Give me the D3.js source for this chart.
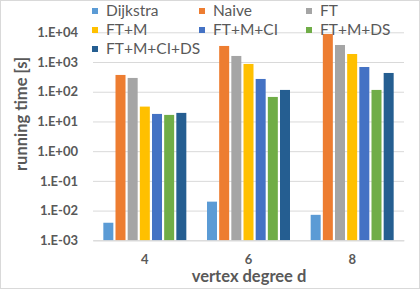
<!DOCTYPE html>
<html><head><meta charset="utf-8">
<script src="https://cdn.jsdelivr.net/npm/d3@7"></script>
<style>body{margin:0;background:#fff}svg{display:block}</style>
</head><body><svg id="c" width="420" height="289"></svg>
<script>
const categories = ["4", "6", "8"];
const seriesNames = ["Dijkstra", "Naive", "FT", "FT+M", "FT+M+CI", "FT+M+DS", "FT+M+CI+DS"];
const colors = ["#5b9bd5", "#ed7d31", "#a5a5a5", "#ffc000", "#4472c4", "#70ad47", "#255e91"];
const dijkstra = [0.0039, 0.020, 0.0072];
const naive = [367, 3470, 8770];
const ft = [291, 1600, 3740];
const ftm = [31.6, 861, 1860];
const ftmci = [17.9, 269, 680];
const ftmds = [16.6, 66.8, 115];
const ftmcids = [19.4, 115, 428];
const yTicks = [1e-3, 1e-2, 1e-1, 1e0, 1e1, 1e2, 1e3, 1e4];
const yTickLabels = ["1.E-03", "1.E-02", "1.E-01", "1.E+00", "1.E+01", "1.E+02", "1.E+03", "1.E+04"];
const seriesValues = [dijkstra, naive, ft, ftm, ftmci, ftmds, ftmcids];

const svg = d3.select("#c");
const font = "Lato, 'Open Sans', sans-serif";
const textCol = "#595959";
const L = 93, R = 404, T = 32.3, B = 240.3;

svg.append("rect").attr("x", 0.5).attr("y", 0.5).attr("width", 419).attr("height", 288)
  .attr("fill", "#fff").attr("stroke", "#d9d9d9");

const y = d3.scaleLog().domain([1e-3, 1e4]).range([B, T]);
const x = d3.scaleBand().domain(categories).range([L, R]).padding(0);
const inner = d3.scaleBand().domain(seriesNames).range([-41.5, 41.5]).paddingInner(0.178).paddingOuter(0);

// gridlines
const yAxis = d3.axisLeft(y).tickValues(yTicks).tickFormat((d, i) => yTickLabels[i])
  .tickSize(-(R - L)).tickPadding(15);
const ga = svg.append("g").attr("transform", `translate(${L},0)`).call(yAxis);
ga.select(".domain").remove();
ga.selectAll(".tick line").attr("stroke", "#d9d9d9").attr("stroke-width", 1);
ga.selectAll(".tick text").attr("fill", textCol).attr("font-family", font)
  .attr("font-weight", "bold").attr("font-size", 13);

// bars
seriesNames.forEach((s, si) => {
  svg.append("g").selectAll("rect").data(categories).join("rect")
    .attr("x", (c) => x(c) + x.bandwidth() / 2 + inner(s))
    .attr("width", inner.bandwidth())
    .attr("y", (c, ci) => y(seriesValues[si][ci]))
    .attr("height", (c, ci) => B - y(seriesValues[si][ci]))
    .attr("fill", colors[si]);
});

// x axis
const xAxis = d3.axisBottom(x).tickSize(0).tickPadding(14);
const gx = svg.append("g").attr("transform", `translate(0,${B})`).call(xAxis);
gx.select(".domain").attr("stroke", "#d9d9d9");
gx.selectAll(".tick text").attr("fill", textCol).attr("font-family", font)
  .attr("font-weight", "bold").attr("font-size", 13);

// axis titles
svg.append("text").attr("x", 249).attr("y", 282).attr("text-anchor", "middle")
  .attr("fill", textCol).attr("font-family", font).attr("font-weight", "bold").attr("font-size", 16.5)
  .text("vertex degree d");
svg.append("text").attr("transform", `translate(27,114) rotate(-90)`)
  .attr("text-anchor", "middle").attr("fill", textCol).attr("font-family", font)
  .attr("font-weight", "bold").attr("font-size", 16.5).text("running time [s]");

// legend
const legX = [92, 199, 306], legY = [11, 30, 49];
seriesNames.forEach((s, i) => {
  const lx = legX[i % 3], ly = legY[Math.floor(i / 3)];
  const g = svg.append("g");
  g.append("rect").attr("x", lx).attr("y", ly - 3).attr("width", 6).attr("height", 6).attr("fill", colors[i]);
  g.append("text").attr("x", lx + 14).attr("y", ly).attr("dy", "0.35em")
    .attr("fill", textCol).attr("font-family", font).attr("font-size", 15.5).text(s);
});
</script></body></html>
